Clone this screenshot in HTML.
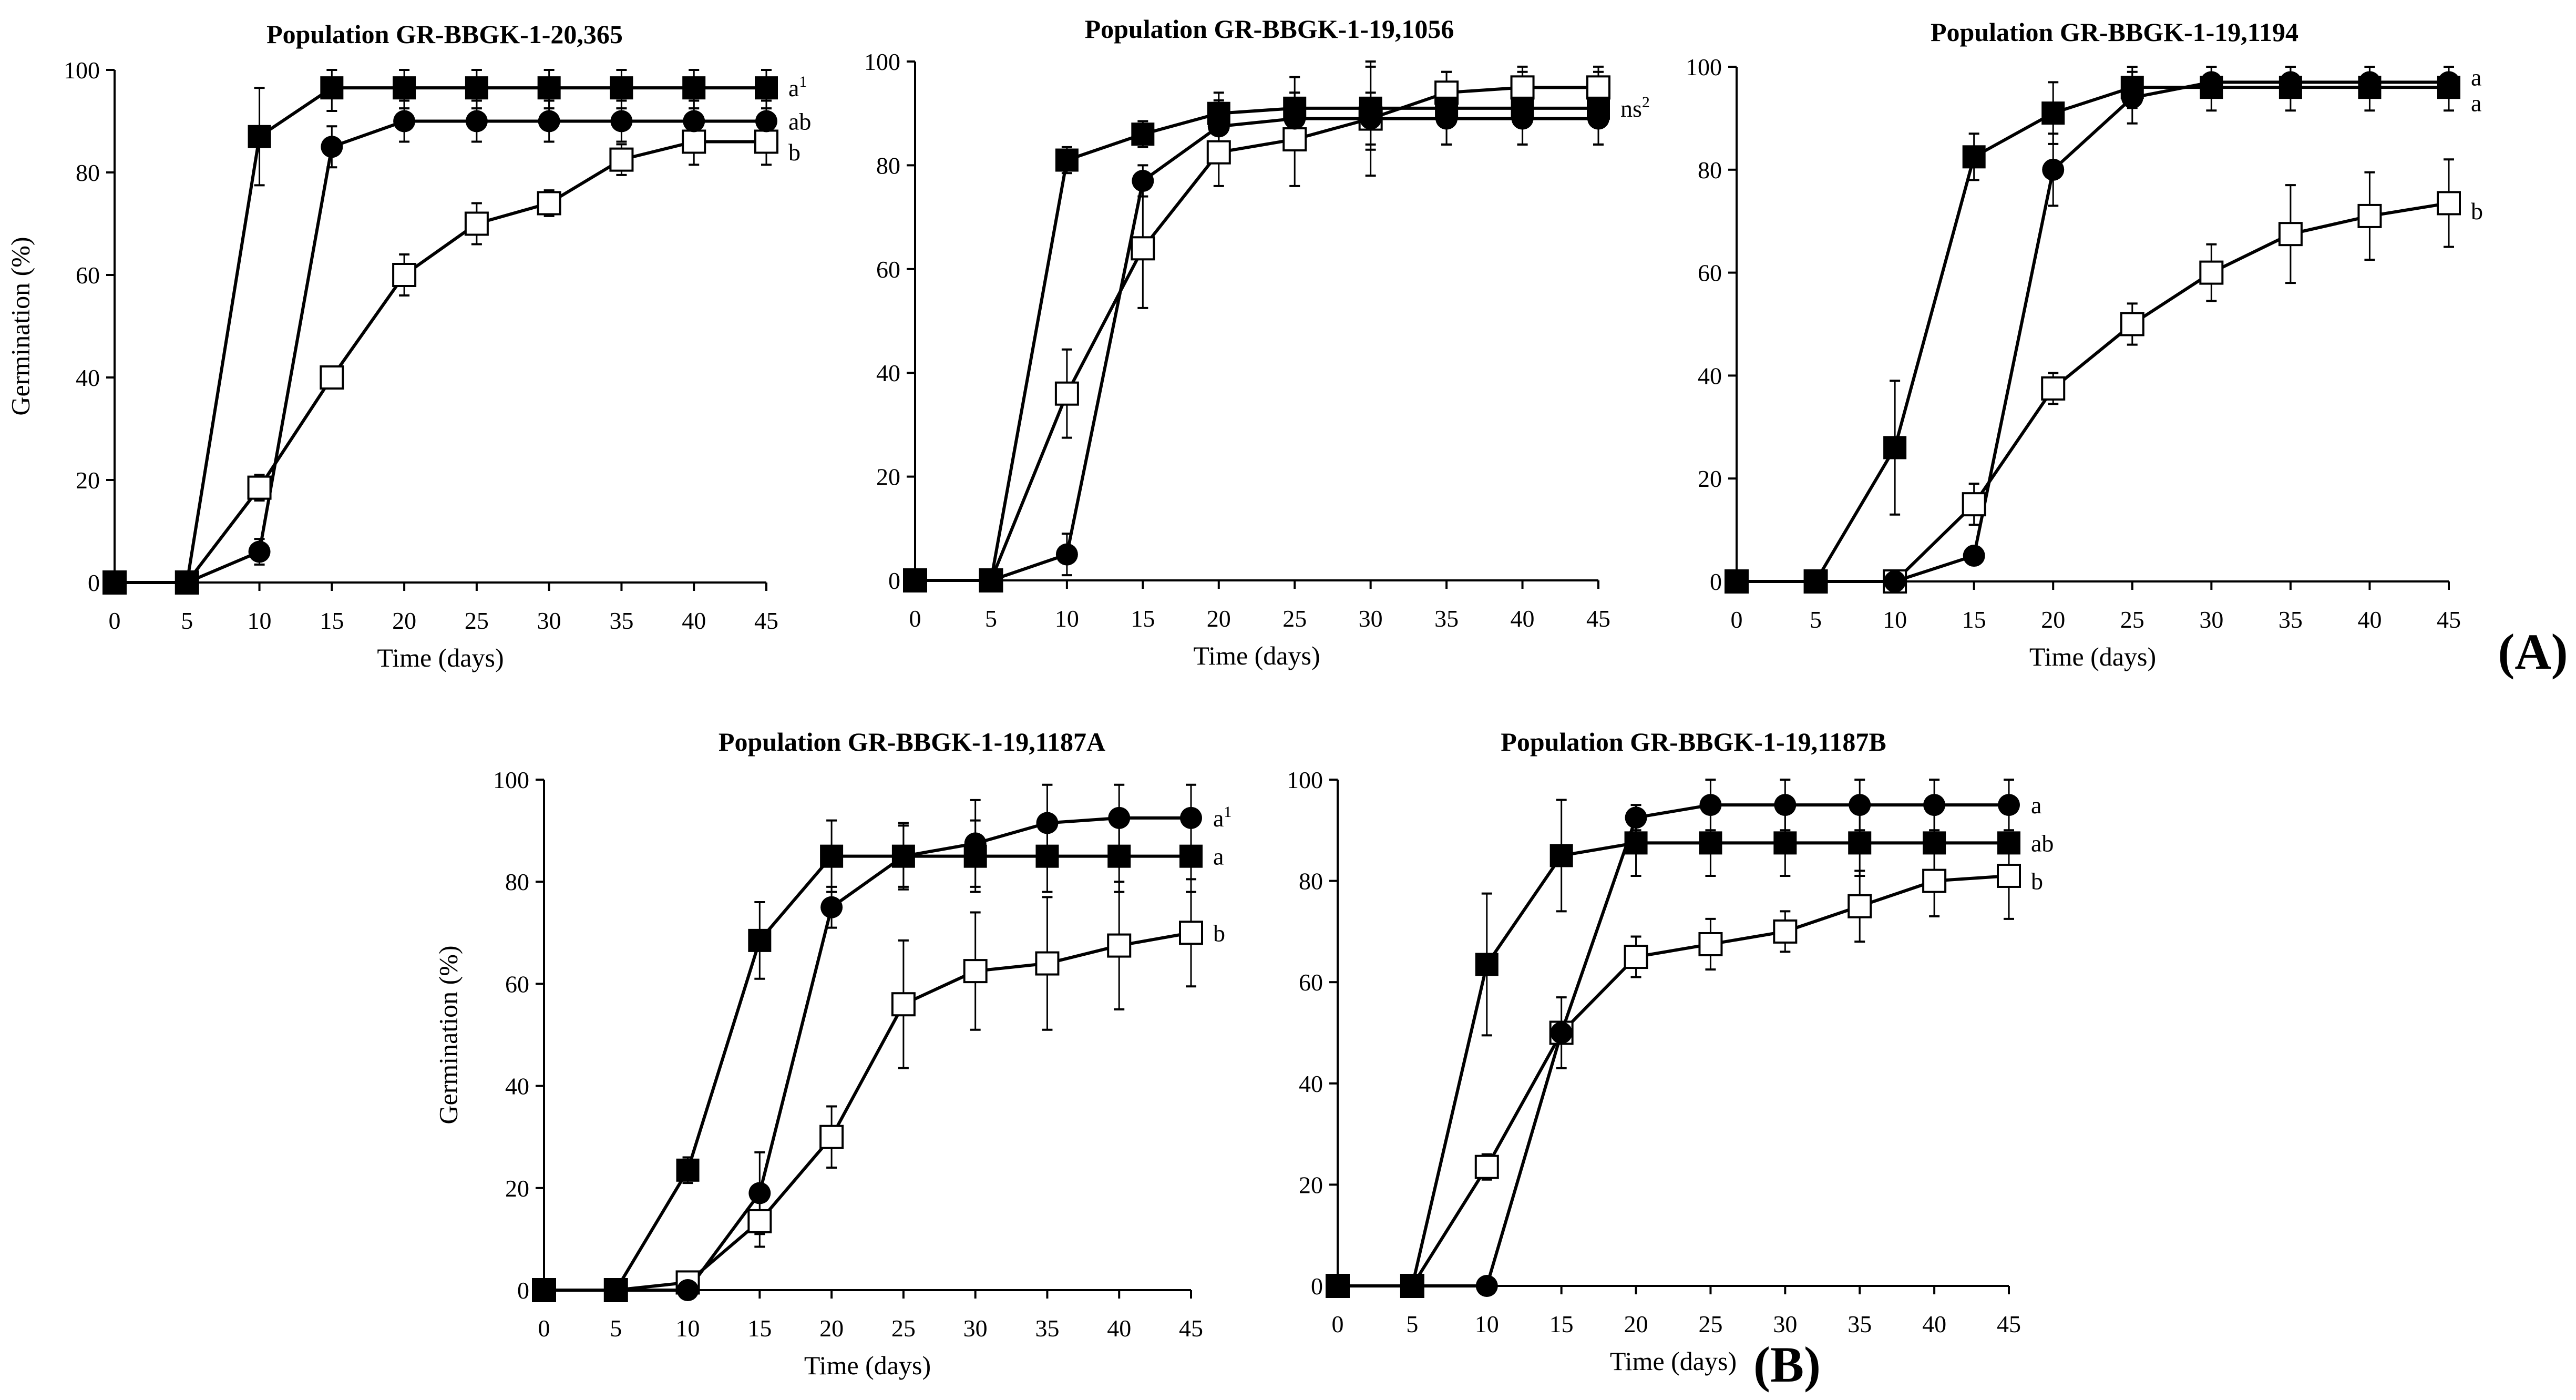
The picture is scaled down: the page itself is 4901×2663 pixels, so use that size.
<!DOCTYPE html>
<html><head><meta charset="utf-8"><style>
html,body{margin:0;padding:0;background:#fff}
svg{display:block}
text{font-family:"Liberation Serif",serif;fill:#000}
</style></head><body>
<svg id="fig" width="4901" height="2663" viewBox="0 0 4901 2663" xmlns="http://www.w3.org/2000/svg">
<rect width="4901" height="2663" fill="#fff"/>
<text x="4819" y="1272" font-size="96" font-weight="bold" text-anchor="middle">(A)</text>
<text x="3400" y="2628" font-size="96" font-weight="bold" text-anchor="middle">(B)</text>
</svg>
<script>
const days = [0,5,10,15,20,25,30,35,40,45];
const yTicks = [0,20,40,60,80,100];
const xTicks = [0,5,10,15,20,25,30,35,40,45];

// Panel 1: GR-BBGK-1-20,365
const p1Square = [0,0,87,96.5,96.5,96.5,96.5,96.5,96.5,96.5];
const p1SquareErr = [0,0,9.5,4.5,4,4,4,4,4,4];
const p1Circle = [0,0,6,85,90,90,90,90,90,90];
const p1CircleErr = [0,0,2.5,4,4,4,4,4,4,4];
const p1Open = [0,0,18.5,40,60,70,74,82.5,86,86];
const p1OpenErr = [0,0,2.5,0,4,4,2.5,3,4.5,4.5];
const p1Labels = [["a","1",96.5],["ab","",90],["b","",84]];

// Panel 2: GR-BBGK-1-19,1056
const p2Square = [0,0,81,86,90,91,91,91,91,91];
const p2SquareErr = [0,0,2.5,2.5,4,6,8,7,7,7];
const p2Circle = [0,0,5,77,87.5,89,89,89,89,89];
const p2CircleErr = [0,0,4,3,5,5,5,5,5,5];
const p2Open = [0,0,36,64,82.5,85,89,94,95,95];
const p2OpenErr = [0,0,8.5,11.5,6.5,9,11,4,4,4];
const p2Labels = [["ns","2",91]];

// Panel 3: GR-BBGK-1-19,1194
const p3Square = [0,0,26,82.5,91,96,96,96,96,96];
const p3SquareErr = [0,0,13,4.5,6,4,4.5,4.5,4.5,4.5];
const p3Circle = [0,0,0,5,80,94,97,97,97,97];
const p3CircleErr = [0,0,0,0,7,5,3,3,3,3];
const p3Open = [0,0,0,15,37.5,50,60,67.5,71,73.5];
const p3OpenErr = [0,0,0,4,3,4,5.5,9.5,8.5,8.5];
const p3Labels = [["a","",98],["a","",93],["b","",72]];

// Panel 4: GR-BBGK-1-19,1187A
const p4Square = [0,0,23.5,68.5,85,85,85,85,85,85];
const p4SquareErr = [0,0,2.5,7.5,7,6.5,7,7,7,7];
const p4Circle = [0,0,0,19,75,85,87.5,91.5,92.5,92.5];
const p4CircleErr = [0,0,0,8,4,6,8.5,7.5,6.5,6.5];
const p4Open = [0,0,1.5,13.5,30,56,62.5,64,67.5,70];
const p4OpenErr = [0,0,2,5,6,12.5,11.5,13,12.5,10.5];
const p4Labels = [["a","1",92.5],["a","",85],["b","",70]];

// Panel 5: GR-BBGK-1-19,1187B
const p5Square = [0,0,63.5,85,87.5,87.5,87.5,87.5,87.5,87.5];
const p5SquareErr = [0,0,14,11,6.5,6.5,6.5,6.5,6.5,2];
const p5Circle = [0,0,0,50,92.5,95,95,95,95,95];
const p5CircleErr = [0,0,0,0,2.5,5,5,5,5,5];
const p5Open = [0,0,23.5,50,65,67.5,70,75,80,81];
const p5OpenErr = [0,0,2.5,7,4,5,4,7,7,8.5];
const p5Labels = [["a","",95],["ab","",87.5],["b","",80]];

const NS = "http://www.w3.org/2000/svg";
const svg = document.getElementById("fig");
function mk(tag, attrs, parent){
  const e = document.createElementNS(NS, tag);
  for (const k in attrs) e.setAttribute(k, attrs[k]);
  (parent||svg).appendChild(e);
  return e;
}

function panel(id, cfg, sq, sqE, ci, ciE, op, opE, labels){
  const g = mk("g", {});
  
  
  const X = d => cfg.x0 + (d/45)*(cfg.x45-cfg.x0);
  const Y = v => cfg.y0 - (v/100)*(cfg.y0-cfg.y100);
  const t = mk("text", {x:cfg.tx, y:cfg.ty, "font-size":50, "font-weight":"bold", "text-anchor":"middle"}, g);
  t.textContent = cfg.title;
  
  
  const ya = mk("line", {x1:cfg.x0, y1:Y(0), x2:cfg.x0, y2:Y(100), stroke:"#000", "stroke-width":4}, g);
  
  
  const xa = mk("line", {x1:cfg.x0, y1:Y(0), x2:X(45), y2:Y(0), stroke:"#000", "stroke-width":4}, g);
  
  
  yTicks.forEach(v => {
    mk("line", {x1:cfg.x0-16, y1:Y(v), x2:cfg.x0, y2:Y(v), stroke:"#000", "stroke-width":4}, g);
    const tl = mk("text", {x:cfg.x0-28, y:Y(v)+16, "font-size":46, "text-anchor":"end"}, g);
    tl.textContent = v;
    
    
  });
  xTicks.forEach(v => {
    mk("line", {x1:X(v), y1:Y(0), x2:X(v), y2:Y(0)+16, stroke:"#000", "stroke-width":4}, g);
    const tl = mk("text", {x:X(v), y:Y(0)+88, "font-size":46, "text-anchor":"middle"}, g);
    tl.textContent = v;
    
    
  });
  const xl = mk("text", {x:(cfg.x0+X(45))/2, y:Y(0)+160, "font-size":50, "text-anchor":"middle"}, g);
  xl.textContent = "Time (days)";
  
  
  if (cfg.ylab){
    const cy = (Y(0)+Y(100))/2;
    const yl = mk("text", {x:cfg.ylx, y:cy, "font-size":50, "text-anchor":"middle", transform:`rotate(-90 ${cfg.ylx} ${cy})`, "dominant-baseline":"middle"}, g);
    yl.textContent = "Germination (%)";
    
    
  }
  const series = [[op,opE,"open"],[ci,ciE,"circle"],[sq,sqE,"square"]];
  series.forEach(([vals, errs, kind]) => {
    const pts = days.map((d,i)=>X(d)+","+Y(vals[i])).join(" ");
    const pl = mk("polyline", {points:pts, fill:"none", stroke:"#000", "stroke-width":6, "stroke-linejoin":"round"}, g);
    
    
  });
  series.forEach(([vals, errs, kind]) => {
    days.forEach((d,i) => {
      if (errs[i] > 0){
        const x = X(d), y1 = Y(vals[i]-errs[i]), y2 = Y(Math.min(100, vals[i]+errs[i]));
        mk("line", {x1:x, y1:y1, x2:x, y2:y2, stroke:"#000", "stroke-width":3}, g);
        mk("line", {x1:x-10, y1:y1, x2:x+10, y2:y1, stroke:"#000", "stroke-width":4}, g);
        mk("line", {x1:x-10, y1:y2, x2:x+10, y2:y2, stroke:"#000", "stroke-width":4}, g);
      }
    });
  });
  series.forEach(([vals, errs, kind]) => {
    days.forEach((d,i) => {
      const x = X(d), y = Y(vals[i]);
      let m;
      if (kind === "circle") m = mk("circle", {cx:x, cy:y, r:21, fill:"#000"}, g);
      else if (kind === "square") m = mk("rect", {x:x-22, y:y-22, width:44, height:44, fill:"#000"}, g);
      else m = mk("rect", {x:x-21, y:y-21, width:42, height:42, fill:"#fff", stroke:"#000", "stroke-width":4}, g);
      
      
    });
  });
  labels.forEach(([txt, sup, v]) => {
    const l = mk("text", {x:X(45)+42, y:Y(v)+16, "font-size":46}, g);
    l.textContent = txt;
    if (sup){
      const s = mk("tspan", {dy:-18, "font-size":30}, l);
      s.textContent = sup;
    }
    
    
  });
}

panel("panel-20-365", {x0:218,x45:1458,y0:1108,y100:133,tx:846,ty:82,title:"Population GR-BBGK-1-20,365",ylab:true,ylx:44}, p1Square,p1SquareErr,p1Circle,p1CircleErr,p1Open,p1OpenErr,p1Labels);
panel("panel-19-1056", {x0:1741,x45:3041,y0:1104,y100:117,tx:2415,ty:72,title:"Population GR-BBGK-1-19,1056",ylab:false}, p2Square,p2SquareErr,p2Circle,p2CircleErr,p2Open,p2OpenErr,p2Labels);
panel("panel-19-1194", {x0:3304,x45:4659,y0:1106,y100:127,tx:4023,ty:78,title:"Population GR-BBGK-1-19,1194",ylab:false}, p3Square,p3SquareErr,p3Circle,p3CircleErr,p3Open,p3OpenErr,p3Labels);
panel("panel-19-1187a", {x0:1035,x45:2266,y0:2454,y100:1483,tx:1735,ty:1428,title:"Population GR-BBGK-1-19,1187A",ylab:true,ylx:858}, p4Square,p4SquareErr,p4Circle,p4CircleErr,p4Open,p4OpenErr,p4Labels);
panel("panel-19-1187b", {x0:2545,x45:3822,y0:2446,y100:1483,tx:3222,ty:1428,title:"Population GR-BBGK-1-19,1187B",ylab:false}, p5Square,p5SquareErr,p5Circle,p5CircleErr,p5Open,p5OpenErr,p5Labels);
</script>
</body></html>
